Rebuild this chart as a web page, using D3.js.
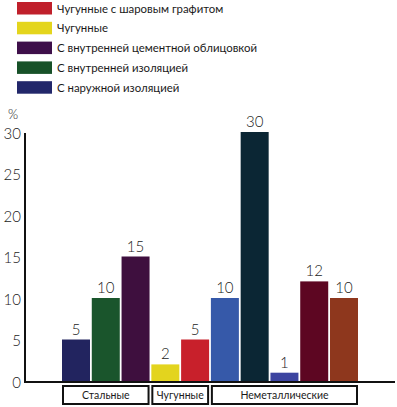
<!DOCTYPE html>
<html>
<head>
  <meta charset="utf-8">
  <title>Трубы</title>
  <script src="https://d3js.org/d3.v7.min.js"></script>
  <style>
    body { margin: 0; background: #fff; }
    text { font-family: Lato, "Noto Sans", sans-serif; fill: #1a1a1a; font-weight: 300; }
    .lbl { font-weight: 400; }
  </style>
</head>
<body>
<svg width="397" height="407"></svg>
<script>
// bar values, left to right
var values = [5, 10, 15, 2, 5, 10, 30, 1, 12, 10]
var barColors = ["#22245f", "#1a552c", "#3e0f3e", "#e3d41e", "#c8202b",
                 "#3659a9", "#0b2634", "#3c44a0", "#5d0622", "#8e371d"]
var groups = [
  { label: "Стальные", first: 0, last: 2 },
  { label: "Чугунные", first: 3, last: 4 },
  { label: "Неметаллические", first: 5, last: 9 }]
var legendLabels = ["Чугунные с шаровым графитом", "Чугунные",
  "С внутренней цементной облицовкой", "С внутренней изоляцией", "С наружной изоляцией"]
var legendColors = ["#c0202b", "#e4d51d", "#3e0f4a", "#175128", "#22276a"]
var yTicks = [0, 5, 10, 15, 20, 25, 30]

var svg = d3.select("svg")

var x = d3.scaleBand()
  .domain(d3.range(values.length))
  .range([62, 358])
  .paddingInner(0.06)
var y = d3.scaleLinear().domain([0, 30]).range([381, 132])
var base = 382

// legend
var legend = svg.append("g").selectAll("g")
  .data(legendLabels)
  .enter().append("g")
    .attr("transform", function (d, i) { return "translate(17," + (2 + i * 19.8) + ")" })
legend.append("rect")
  .attr("width", 35).attr("height", 12.5)
  .attr("fill", function (d, i) { return legendColors[i] })
legend.append("text")
  .attr("class", "lbl")
  .attr("x", 40).attr("y", 10.5)
  .attr("font-size", 11.4)
  .text(function (d) { return d })

// bars
svg.append("g").selectAll("rect")
  .data(values)
  .enter().append("rect")
    .attr("x", function (d, i) { return x(i) })
    .attr("y", function (d) { return y(d) })
    .attr("width", x.bandwidth())
    .attr("height", function (d) { return base - y(d) })
    .attr("fill", function (d, i) { return barColors[i] })

svg.append("g").selectAll("text")
  .data(values)
  .enter().append("text")
    .attr("x", function (d, i) { return x(i) + x.bandwidth() / 2 })
    .attr("y", function (d) { return y(d) - 5 })
    .attr("text-anchor", "middle")
    .attr("font-size", 15)
    .text(function (d) { return d })

// axes
var yAxis = d3.axisLeft(y).tickValues(yTicks).tickSize(0).tickPadding(4)
var ay = svg.append("g").attr("transform", "translate(25,1.5)").call(yAxis)
ay.select(".domain").remove()
ay.selectAll("text").attr("font-size", 15).attr("fill", "#1a1a1a")
  .style("font-family", "Lato, 'Noto Sans', sans-serif")
  .style("font-weight", 300)

svg.append("line")
  .attr("x1", 25).attr("x2", 25)
  .attr("y1", y(30) + 1).attr("y2", base)
  .attr("stroke", "#111").attr("stroke-width", 2)
svg.append("line")
  .attr("x1", 24).attr("x2", 395)
  .attr("y1", base).attr("y2", base)
  .attr("stroke", "#111").attr("stroke-width", 2)

svg.append("text")
  .attr("x", 13).attr("y", 119)
  .attr("text-anchor", "middle")
  .attr("font-size", 13)
  .text("%")

// group boxes
var box = svg.append("g").selectAll("g")
  .data(groups)
  .enter().append("g")
box.append("rect")
  .attr("x", function (g) { return x(g.first) + 1 })
  .attr("y", 386)
  .attr("width", function (g) { return x(g.last) + x.bandwidth() - x(g.first) - 2 })
  .attr("height", 18)
  .attr("fill", "none")
  .attr("stroke", "#111")
  .attr("stroke-width", 2)
box.append("text")
  .attr("class", "lbl")
  .attr("x", function (g) { return (x(g.first) + x(g.last) + x.bandwidth()) / 2 })
  .attr("y", 399)
  .attr("text-anchor", "middle")
  .attr("font-size", 10.5)
  .text(function (g) { return g.label })
</script>
</body>
</html>
